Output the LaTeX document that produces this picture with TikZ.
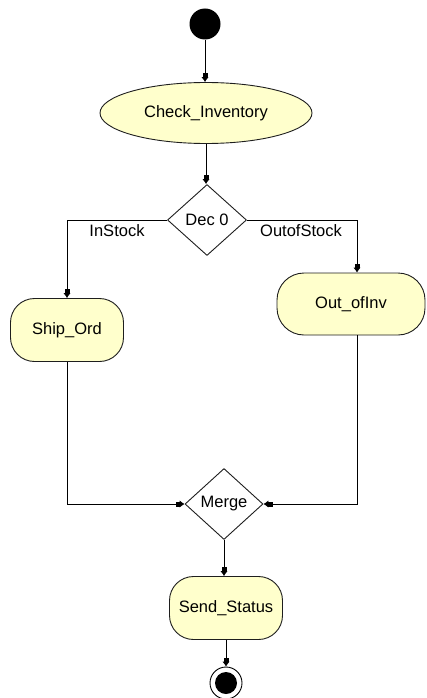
\documentclass[tikz,border=0pt]{standalone}
\usepackage{fontspec}
\setmainfont{Liberation Sans}
\usetikzlibrary{arrows.meta,shapes.geometric,calc}
\definecolor{actfill}{RGB}{255,255,204}
\definecolor{actline}{RGB}{30,30,30}
\tikzset{
  lbl/.style={font=\fontsize{16.5pt}{18pt}\selectfont},
  actbox/.style={draw=actline,fill=actfill,line width=0.9pt,rounded corners=24pt,
    minimum width=113pt,minimum height=63pt,inner sep=0pt,lbl},
  actell/.style={draw=actline,fill=actfill,line width=0.9pt,ellipse,
    minimum width=212pt,minimum height=61pt,inner sep=0pt,lbl},
  decide/.style={draw=actline,fill=white,line width=0.9pt,diamond,
    minimum width=79pt,minimum height=71pt,inner sep=0pt,lbl},
  flow/.style={line width=0.9pt,draw=black,
    -{Rectangle[length=4pt,width=5pt] Latex[length=5pt,width=7.5pt]}}
}
\begin{document}
\begin{tikzpicture}[x=1pt,y=-1pt]
\useasboundingbox (0,0) rectangle (427,698);
\node[circle,fill=black,minimum size=31pt,inner sep=0pt] (start) at (205,24) {};
\node[actell] (check) at (206,113) {Check\_Inventory};
\node[decide] (dec) at (207,220) {Dec 0};
\node[actbox] (ship) at (67,330) {Ship\_Ord};
\node[actbox,minimum width=148pt,minimum height=62pt,rounded corners=27pt] (outinv) at (351,304) {Out\_ofInv};
\coordinate (rcol) at (357,304);
\node[decide,minimum width=78pt] (merge) at (224,504) {Merge};
\node[actbox] (send) at (226,608) {Send\_Status};
\node[circle,draw=black,line width=0.9pt,minimum size=32pt,inner sep=0pt] (endo) at (226,683) {};
\node[circle,fill=black,minimum size=22pt,inner sep=0pt] (endi) at (endo.center) {};

\draw[flow] (start) -- (start |- check.north);
\draw[flow] (check) -- (check.south |- dec.north);
\draw[flow] (dec.west) -| (ship.north);
\draw[flow] (dec.east) -| (rcol |- outinv.north);
\draw[flow] (ship.south) |- (merge.west);
\draw[flow] (rcol |- outinv.south) |- (merge.east);
\draw[flow] (merge.south) -- (merge.south |- send.north);
\draw[flow] (send.south) -- (endo.north);

\node[lbl,anchor=north] (instock) at (117,221) {InStock};
\node[lbl,anchor=north] (outstock) at (301,221) {OutofStock};
\end{tikzpicture}
\end{document}
